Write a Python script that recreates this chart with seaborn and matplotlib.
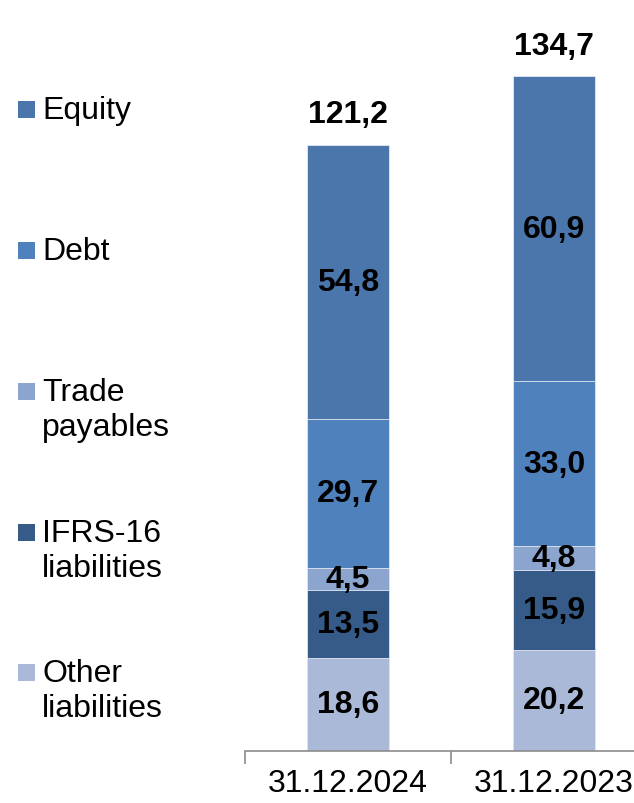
import matplotlib
matplotlib.use('Agg')
import matplotlib.pyplot as plt
import seaborn as sns
import numpy as np
import pandas as pd
from matplotlib.patches import Rectangle

# 데이터
dates = ['31.12.2024', '31.12.2023']
other = [18.6, 20.2]
ifrs16 = [13.5, 15.9]
trade = [4.5, 4.8]
debt = [29.7, 33.0]
equity = [54.8, 60.9]
totals = [121.2, 134.7]

layers = ['Other\nliabilities', 'IFRS-16\nliabilities', 'Trade\npayables', 'Debt', 'Equity']
colors = ['#A9B9D7', '#375B88', '#8BA5CF', '#4F81BD', '#4A76AC']
values = [other, ifrs16, trade, debt, equity]

sns.set_style('white')
plt.rcParams['font.family'] = ['Liberation Sans', 'DejaVu Sans']
plt.rcParams['text.color'] = 'black'
plt.rcParams['xtick.color'] = 'black'

fig = plt.figure(figsize=(6.34, 8.04), dpi=100)
ax = fig.add_axes([245 / 634, 52 / 804, 412 / 634, 701 / 804])

# 누적값 계산
cum = np.cumsum(np.array(values), axis=0)
df = pd.DataFrame({'date': dates})

# 위쪽 층부터 그려서 아래 층이 덮도록
for i in range(len(layers) - 1, -1, -1):
    df['val'] = cum[i]
    sns.barplot(data=df, x='date', y='val', color=colors[i], width=0.4,
                saturation=1, edgecolor='#E4E9F2', linewidth=0.6, ax=ax)

# 세그먼트 라벨
for i in range(len(layers)):
    bottoms = cum[i] - np.array(values[i])
    for j in range(len(dates)):
        ax.text(j, bottoms[j] + values[i][j] / 2, f'{values[i][j]:.1f}'.replace('.', ','),
                ha='center', va='center', fontsize=23, fontweight='bold', color='black')

# 합계 라벨
for j in range(len(dates)):
    ax.annotate(f'{totals[j]:.1f}'.replace('.', ','), (j, totals[j]),
                xytext=(0, 11), textcoords='offset points',
                ha='center', va='bottom', fontsize=23, fontweight='bold', color='black')

ax.set_xlim(-0.5, 1.5)
ax.set_ylim(0, 140)
ax.set_xlabel('')
ax.set_ylabel('')
ax.set_yticks([])
for s in ['top', 'right', 'left']:
    ax.spines[s].set_visible(False)
ax.spines['bottom'].set_color('#8C8C8C')
ax.spines['bottom'].set_linewidth(1.2)
ax.set_xticks([0, 1])
ax.set_xticklabels(dates, fontsize=23, color='black')
ax.tick_params(axis='x', which='major', bottom=True, length=0, pad=12)
ax.set_xticks([-0.5, 0.5, 1.5], minor=True)
ax.tick_params(axis='x', which='minor', bottom=True, length=9, width=1.2,
               color='#8C8C8C', direction='out')

# 범례 (왼쪽 수동 배치, 줄마다 baseline 지정)
legend_base = [119, 260, 401, 542, 682]
for k, i in enumerate(range(len(layers) - 1, -1, -1)):
    y = legend_base[k]
    fig.patches.append(Rectangle((18 / 634, 1 - y / 804), 17 / 634, 17 / 804,
                                 transform=fig.transFigure, facecolor=colors[i],
                                 edgecolor='none'))
    for n, line in enumerate(layers[i].split('\n')):
        fig.text(42 / 634, 1 - (y + n * 35) / 804, line, ha='left', va='baseline',
                 fontsize=23, color='black')

fig.savefig('out.png', dpi=100)
